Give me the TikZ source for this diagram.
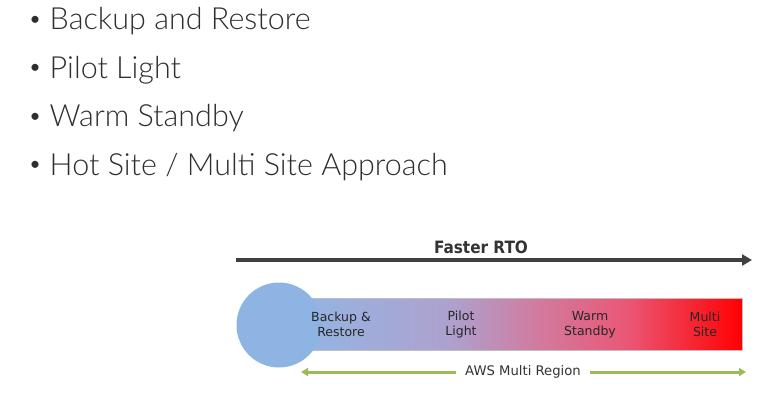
\documentclass[tikz,border=0pt]{standalone}
\usepackage{fontspec}
\setmainfont{Lato Light}
\newfontfamily\bulfont{Lato}
\newfontfamily\diagfont{DejaVu Sans}
\newfontfamily\titlefont{DejaVu Sans Condensed}
\usetikzlibrary{arrows.meta}
\definecolor{bullettext}{HTML}{2E2E2E}
\definecolor{circblue}{HTML}{8EB4E3}
\definecolor{awsgreen}{HTML}{9BBB59}
\definecolor{rtoarrow}{HTML}{404040}
\pgfdeclarehorizontalshading{rtobar}{100bp}{
  rgb(0bp)=(0.58,0.71,0.89);
  rgb(25bp)=(0.58,0.71,0.89);
  rgb(42bp)=(0.68,0.63,0.81);
  rgb(52bp)=(0.82,0.48,0.62);
  rgb(62bp)=(0.92,0.34,0.46);
  rgb(75bp)=(1,0,0);
  rgb(100bp)=(1,0,0)}
\newcommand{\smallbul}{\raisebox{4.5pt}{\bulfont\fontsize{19}{19}\selectfont\textbullet}\hspace{9pt}}
\tikzset{
  bulletitem/.style={anchor=base west, inner sep=0pt, text=bullettext, font=\fontsize{30.5}{31}\selectfont},
  barlabel/.style={align=center, inner sep=0pt, text=black!85, font=\diagfont\fontsize{12.5}{15}\selectfont},
  rtolabel/.style={inner sep=0pt, text=black!80, font=\titlefont\bfseries\fontsize{17}{18}\selectfont},
  awslabel/.style={inner sep=0pt, fill=white, inner xsep=9pt, text=black!80, font=\diagfont\fontsize{13.2}{14}\selectfont},
}
\begin{document}
\begin{tikzpicture}[x=1pt,y=-1pt]
\useasboundingbox (0,0) rectangle (784,400);
% bullets
\node[bulletitem] (b1) at (29.5,29.5) {\smallbul Backup and Restore};
\node[bulletitem] (b2) at (29.5,78) {\smallbul Pilot Light};
\node[bulletitem] (b3) at (29.5,126.5) {\smallbul Warm Standby};
\node[bulletitem] (b4) at (29.5,175) {\smallbul Hot Site / Multi Site Approach};
% Faster RTO arrow
\coordinate (rs) at (236,260);
\coordinate (re) at (752,260);
\draw[rtoarrow, line width=3.4pt, -{Triangle[length=10pt,width=11pt]}] (rs) -- (re);
\node[rtolabel, anchor=base] (rto) at (481,253) {Faster RTO};
% bar
\fill[shading=rtobar, draw=black!25, line width=0.4pt] (300,298.5) rectangle (742.5,350.5);
\fill[circblue] (279,325) circle[radius=42.5];
\node[barlabel] (l1) at (341,324.5) {Backup \&\\Restore};
\node[barlabel] (l2) at (461,324.5) {Pilot\\Light};
\node[barlabel] (l3) at (590,324.5) {Warm\\Standby};
\node[barlabel] (l4) at (705,324.5) {Multi\\Site};
% AWS multi region arrow
\coordinate (as) at (301,372);
\coordinate (ae) at (746,372);
\draw[awsgreen, line width=3pt, {Triangle[length=7pt,width=8pt]}-{Triangle[length=7pt,width=8pt]}] (as) -- (ae);
\node[awslabel] (aws) at (523,372) {AWS Multi Region};
\end{tikzpicture}
\end{document}
